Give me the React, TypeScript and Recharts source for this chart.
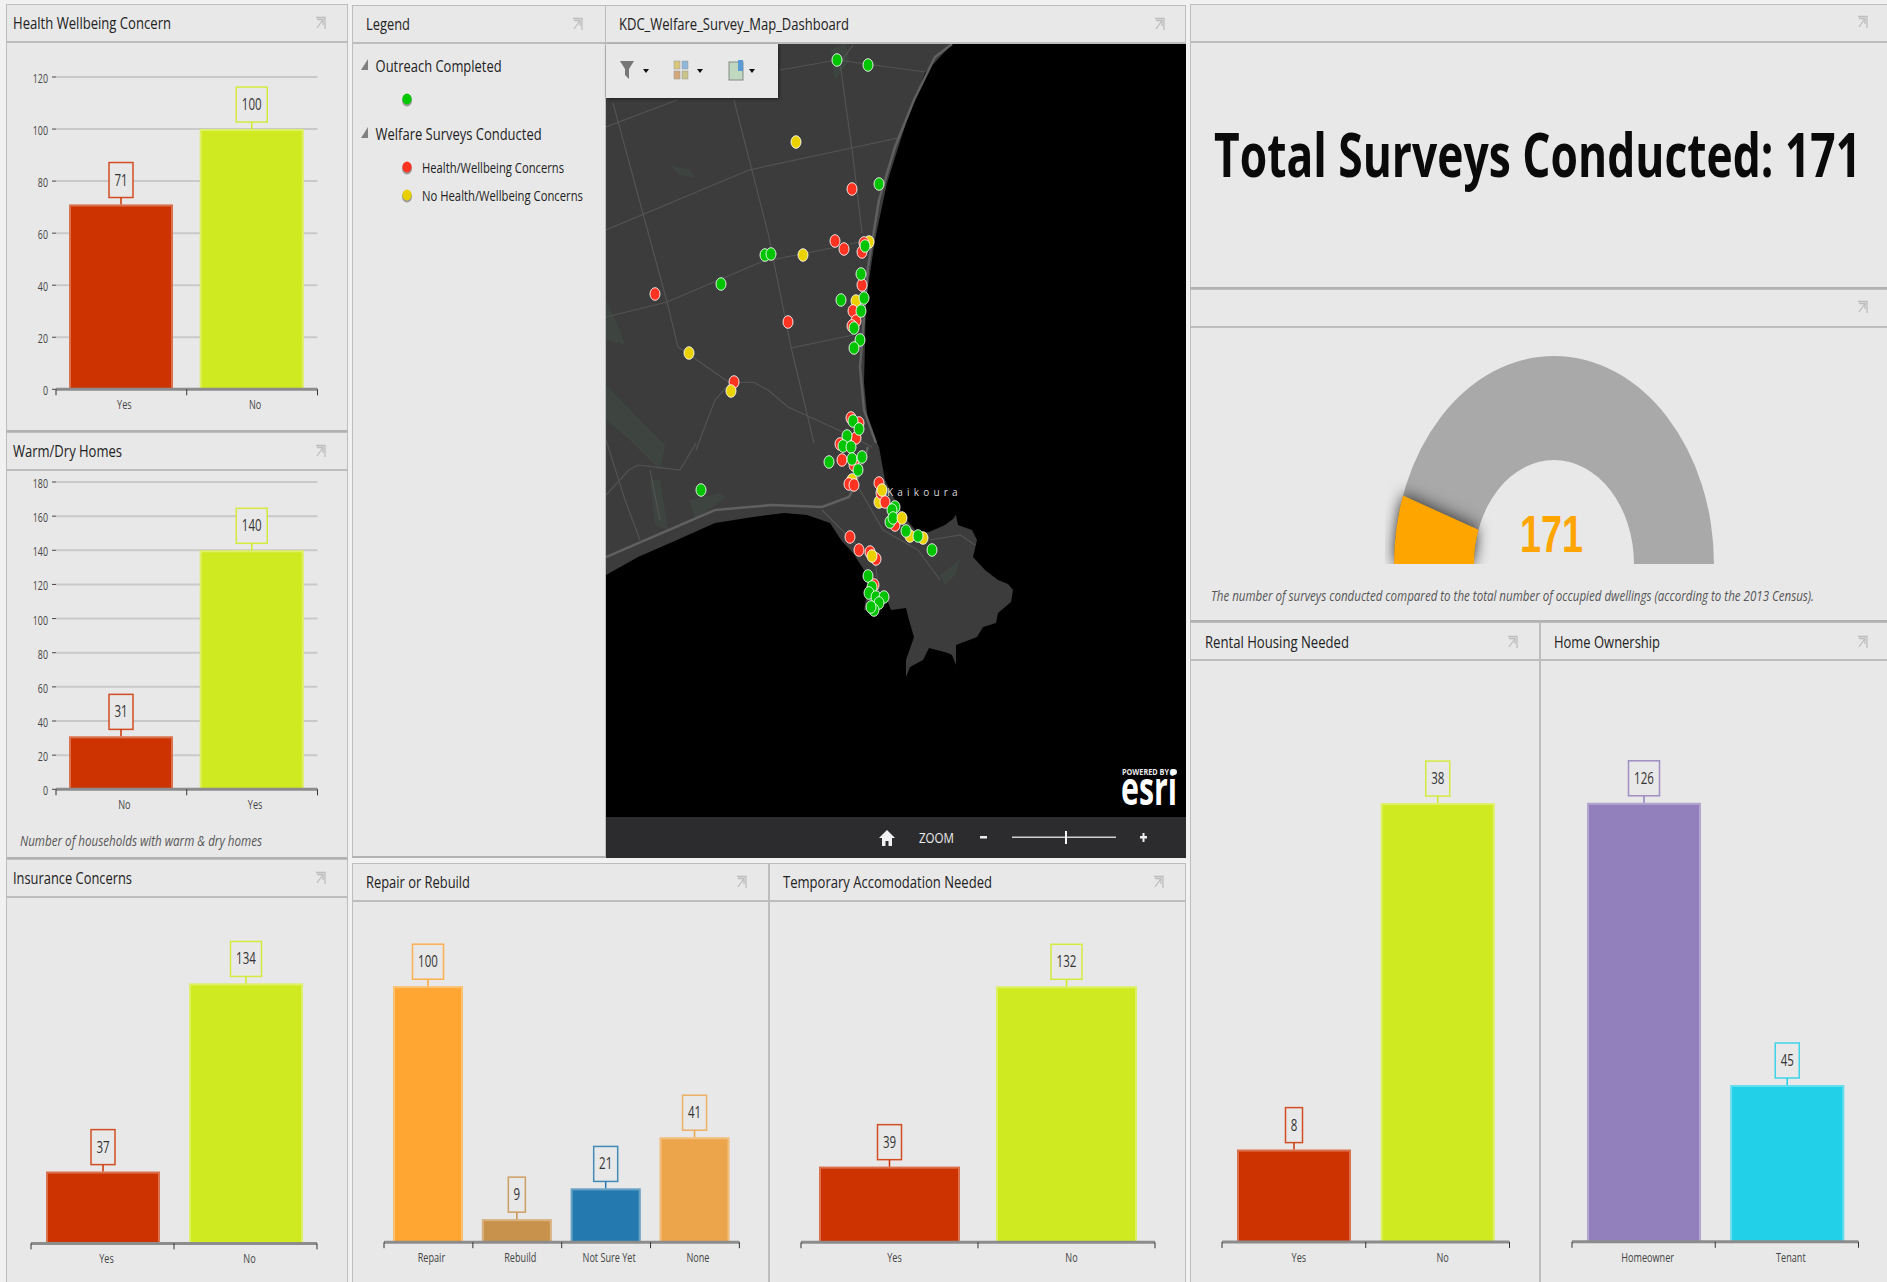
import React from "react";
import { BarChart, Bar, XAxis, YAxis, CartesianGrid, LabelList, PieChart, Pie, Cell, ScatterChart, Scatter } from "recharts";

const RED = "#CC3300", LIME = "#D0EA22";
const healthCats = ["Yes", "No"], healthVals = [71, 100], healthCols = [RED, LIME], healthTicks = [0, 20, 40, 60, 80, 100, 120];
const warmCats = ["No", "Yes"], warmVals = [31, 140], warmCols = [RED, LIME], warmTicks = [0, 20, 40, 60, 80, 100, 120, 140, 160, 180];
const insuranceCats = ["Yes", "No"], insuranceVals = [37, 134], insuranceCols = [RED, LIME];
const repairCats = ["Repair", "Rebuild", "Not Sure Yet", "None"], repairVals = [100, 9, 21, 41], repairCols = ["#FFA632", "#C9924C", "#2479AE", "#EDA54B"];
const tempCats = ["Yes", "No"], tempVals = [39, 132], tempCols = [RED, LIME];
const rentalCats = ["Yes", "No"], rentalVals = [8, 38], rentalCols = [RED, LIME];
const homeCats = ["Homeowner", "Tenant"], homeVals = [126, 45], homeCols = ["#9180BB", "#22D0E8"];
const gaugeValue = 171, gaugeMax = 1600;

const greenPts = [[837,60],[868,65],[879,184],[765,255],[771,254],[721,284],[861,274],[865,246],[841,300],[864,298],[861,311],[854,328],[860,340],[854,348],[853,421],[859,429],[847,436],[843,446],[851,447],[829,462],[852,459],[862,457],[858,470],[701,490],[895,507],[892,510],[890,522],[893,518],[906,531],[918,536],[932,550],[868,576],[872,587],[869,593],[876,597],[884,597],[879,603],[874,610],[871,607]];
const redPts = [[852,189],[835,241],[844,249],[864,243],[862,252],[655,294],[862,285],[853,311],[856,321],[852,326],[788,322],[734,382],[851,418],[859,423],[840,444],[856,438],[842,460],[854,465],[849,484],[854,485],[879,483],[881,493],[885,502],[895,525],[850,537],[859,550],[870,552],[876,559],[874,585]];
const yellowUnderPts = [[869,242],[856,301],[852,480],[879,502],[910,536],[923,538]];
const yellowOverPts = [[796,142],[803,255],[689,353],[731,391],[882,490],[902,518],[872,556]];

const landOutline = "606,44 952,44 925,73 906,123 887,183 875,240 866,300 864,383 868,423 879,447 885,480 895,500 905,518 918,533 929,532 945,525 953,519 956,515 958,525 972,530 977,540 973,557 985,570 998,580 1008,584 1013,590 1011,602 998,613 996,623 983,627 977,637 956,645 956,665 952,655 948,653 929,648 923,660 910,667 906,677 906,660 914,637 909,620 906,608 891,610 887,600 876,613 864,610 868,587 864,570 853,553 841,540 830,523 807,515 784,513 753,517 715,523 677,540 638,557 606,575";
const roads = [
  "853,45 840,63 853,157 862,233", "606,230 749,170 898,138", "606,127 677,100",
  "606,317 667,302 761,262 837,247 868,240", "613,103 667,302 678,347 730,383",
  "734,100 768,233 791,347 814,443", "791,348 853,335",
  "696,450 715,400 730,383 753,382 768,390 788,407 845,433 872,447", "780,70 837,60 925,72",
  "952,44 935,57 914,100 895,147 879,200 868,267 860,367 864,410 876,443",
  "606,495 629,470 638,465 680,470 696,443", "606,557 715,510 772,505 822,507 849,497 856,483 868,447",
  "856,483 883,530 918,550", "822,510 849,537 876,567 879,597",
  "606,440 625,500 640,540", "650,470 660,520", "930,540 960,535 975,545", "918,550 940,580",
];
const greenery = [
  "670,165 690,170 695,178 680,175", "606,300 620,330 625,345 606,340", "606,385 640,420 665,445 660,470 630,440 606,420",
  "650,480 660,480 668,530 655,525", "690,500 720,493 726,497 695,520", "940,575 960,560 955,575 945,585",
  "830,50 845,44 850,60 835,80",
];

const FONT = "'Open Sans', sans-serif";
const PANEL = "#E8E8E8", LINE = "#BDBDBD";

function barShape(p: any) {
  const color = p.payload?.color ?? p.color;
  return (
    <g>
      <rect x={p.x} y={p.y} width={p.width} height={p.height} fill={color} />
      <rect x={p.x + 1} y={p.y + 1} width={Math.max(p.width - 2, 0)} height={Math.max(p.height - 1, 0)} fill="none" stroke="#ffffff" strokeOpacity={0.3} strokeWidth={2} />
    </g>
  );
}

function makeValueLabel(cols: string[]) {
  return function ValueLabel(p: any) {
    const vb = p.viewBox ?? p;
    const cx = vb.x + vb.width / 2;
    const color = cols[p.index];
    const s = String(p.value);
    const w = s.length === 1 ? 17 : s.length === 2 ? 24 : 31;
    const yTop = vb.y - 42;
    return (
      <g>
        <line x1={cx} x2={cx} y1={vb.y} y2={vb.y - 7} stroke={color} strokeWidth={1.5} />
        <rect x={cx - w / 2} y={yTop} width={w} height={35} fill={PANEL} stroke={color} strokeWidth={1.5} strokeOpacity={0.85} />
        <text transform={`translate(${cx},${yTop + 23}) scale(0.72,1)`} textAnchor="middle" fontFamily={FONT} fontSize={16} fill="#333">{s}</text>
      </g>
    );
  };
}

type ChartCfg = { cats: string[]; vals: number[]; cols: string[]; left: number; right: number; top: number; bottom: number; max: number; barW: number; ticks?: number[]; labelShift?: number };

function PanelChart({ cats, vals, cols, left, right, top, bottom, max, barW, ticks, labelShift = 3 }: ChartCfg) {
  const mL = 50, mT = 60, mR = 6, xH = 40;
  const plotW = right - left, plotH = bottom - top;
  const data = cats.map((name, i) => ({ name, value: vals[i], color: cols[i] }));
  const band = plotW / cats.length;
  const axisY = mT + plotH;
  const xTick = (p: any) => {
    const l = p.x - band / 2;
    return (
      <g>
        <line x1={l} x2={l} y1={axisY} y2={axisY + 6} stroke="#333" strokeWidth={1} />
        {p.index === cats.length - 1 && <line x1={l + band} x2={l + band} y1={axisY} y2={axisY + 6} stroke="#333" strokeWidth={1} />}
        <text transform={`translate(${p.x + labelShift},${axisY + 20}) scale(0.76,1)`} textAnchor="middle" fontFamily={FONT} fontSize={12} fill="#444">{p.payload.value}</text>
      </g>
    );
  };
  const yTick = (p: any) => (
    <g>
      <line x1={mL - 4} x2={mL} y1={p.y} y2={p.y} stroke="#444" strokeWidth={1} />
      <text transform={`translate(${mL - 8},${p.y + 6}) scale(0.74,1)`} textAnchor="end" fontFamily={FONT} fontSize={12} fill="#444">{p.payload.value}</text>
    </g>
  );
  return (
    <div style={{ position: "absolute", left: left - mL, top: top - mT }}>
      <BarChart width={mL + plotW + mR} height={mT + plotH + xH} data={data} margin={{ top: mT, right: mR, bottom: 0, left: ticks ? 0 : mL }}>
        {ticks && <CartesianGrid vertical={false} stroke="#C9C9C9" strokeWidth={2} />}
        <XAxis dataKey="name" height={xH} interval={0} axisLine={{ stroke: "#8C8C8C", strokeWidth: 3 }} tickLine={false} tick={xTick} />
        {ticks
          ? <YAxis width={mL} domain={[0, max]} ticks={ticks} interval={0} axisLine={false} tickLine={false} tick={yTick} />
          : <YAxis hide domain={[0, max]} />}
        <Bar dataKey="value" barSize={barW} isAnimationActive={false} shape={barShape}>
          <LabelList dataKey="value" content={makeValueLabel(cols)} />
        </Bar>
      </BarChart>
    </div>
  );
}

function Panel({ x, y, w, h, hb }: { x: number; y: number; w: number; h: number; hb: number }) {
  return (
    <div style={{ position: "absolute", left: x, top: y, width: w, height: h, background: PANEL, boxSizing: "border-box", border: `1px solid ${LINE}`, borderBottom: "2px solid #B2B2B2" }}>
      <div style={{ position: "absolute", left: 0, right: 0, top: hb - y - 1, height: 2, background: LINE }} />
    </div>
  );
}

function Txt({ x, y, w, s, size = 17, color = "#222", italic, weight, sx = 1, family = FONT }: any) {
  return (
    <text transform={`translate(${x},${y}) scale(${sx},1)`} textLength={w / sx} lengthAdjust="spacingAndGlyphs" fontFamily={family} fontSize={size} fill={color} fontStyle={italic ? "italic" : undefined} fontWeight={weight}>{s}</text>
  );
}

function Pin({ x, y }: { x: number; y: number }) {
  return (
    <g transform={`translate(${x - 5},${y - 6})`} stroke="#BDBDBD" strokeWidth={1.3} fill="none">
      <path d="M1,0.5 H10 V12" />
      <path d="M2,2.5 H8 V8 M8,2.5 L2,11" />
    </g>
  );
}

function LegendDot({ x, y, c }: { x: number; y: number; c: string }) {
  return (
    <g>
      <ellipse cx={x} cy={y + 1.5} rx={5} ry={6} fill="#999" />
      <ellipse cx={x} cy={y} rx={4.6} ry={5.4} fill={c} />
    </g>
  );
}

const dot = (color: string) => (p: any) => (
  <ellipse cx={p.cx} cy={p.cy} rx={5} ry={6.3} fill={color} stroke="#fff" strokeOpacity={0.85} strokeWidth={1} />
);
const toPts = (a: number[][]) => a.map(([x, y]) => ({ x, y }));

function MapArea() {
  return (
    <div style={{ position: "absolute", left: 606, top: 44, width: 580, height: 814, background: "#000" }}>
      <svg width={580} height={773} viewBox="606 44 580 773" style={{ position: "absolute", left: 0, top: 0 }}>
        <polygon points={landOutline} fill="#3C3C3C" />
        {greenery.map((g, i) => <polygon key={i} points={g} fill="#3E4540" />)}
        {roads.map((r, i) => <polyline key={i} points={r} fill="none" stroke={i === 9 || i === 11 ? "#606060" : "#535353"} strokeWidth={i === 9 || i === 11 ? 2.5 : 1.2} />)}
        <text x={887} y={496} fontFamily={FONT} fontSize={10} letterSpacing={4.2} fill="#D8D8D8">Kaikoura</text>
      </svg>
      <div style={{ position: "absolute", left: 0, top: 0 }}>
        <ScatterChart width={580} height={773} margin={{ top: 0, right: 0, bottom: 0, left: 0 }}>
          <XAxis type="number" dataKey="x" domain={[606, 1186]} hide />
          <YAxis type="number" dataKey="y" domain={[44, 817]} reversed hide />
          <Scatter data={toPts(yellowUnderPts)} shape={dot("#EBD100")} isAnimationActive={false} />
          <Scatter data={toPts(redPts)} shape={dot("#FF3322")} isAnimationActive={false} />
          <Scatter data={toPts(greenPts)} shape={dot("#00C400")} isAnimationActive={false} />
          <Scatter data={toPts(yellowOverPts)} shape={dot("#EBD100")} isAnimationActive={false} />
        </ScatterChart>
      </div>
      <div style={{ position: "absolute", left: 0, top: 773, width: 580, height: 41, background: "#2C2C2F" }} />
      <div style={{ position: "absolute", left: 0, top: 0, width: 172, height: 54, background: PANEL, boxShadow: "1px 1px 3px rgba(0,0,0,.5)" }} />
    </div>
  );
}

function Gauge() {
  const rest = gaugeMax - gaugeValue;
  return (
    <div style={{ position: "absolute", left: 1333.5, top: 352, width: 440, height: 212, overflow: "hidden" }}>
      <div style={{ width: 440, height: 220, transform: "scaleX(0.769)", transformOrigin: "220px 0" }}>
        <PieChart width={440} height={220} margin={{ top: 0, right: 0, bottom: 0, left: 0 }}>
          <Pie data={[{ value: gaugeMax }]} dataKey="value" cx={220} cy={212} startAngle={180} endAngle={0} innerRadius={104} outerRadius={208} stroke="none" fill="#A9A9A9" isAnimationActive={false} />
          <Pie data={[{ value: gaugeValue }, { value: rest }]} dataKey="value" cx={220} cy={212} startAngle={180} endAngle={0} innerRadius={104} outerRadius={208} stroke="none" isAnimationActive={false}>
            <Cell fill="#FFA500" style={{ filter: "drop-shadow(0 0 9px rgba(0,0,0,.8))" }} />
            <Cell fill="none" />
          </Pie>
        </PieChart>
      </div>
    </div>
  );
}

export default function App() {
  return (
    <div style={{ position: "absolute", left: 0, top: 0, width: 1887, height: 1282, overflow: "hidden", background: "#F1F1F1" }}>
      <Panel x={6} y={4} w={342} h={428} hb={41} />
      <Panel x={6} y={432} w={342} h={427} hb={469} />
      <Panel x={6} y={859} w={342} h={430} hb={896} />
      <Panel x={352} y={5} w={254} h={853} hb={42} />
      <Panel x={605} y={5} w={581} h={853} hb={42} />
      <Panel x={352} y={863} w={417} h={430} hb={900} />
      <Panel x={769} y={863} w={417} h={430} hb={900} />
      <Panel x={1190} y={4} w={700} h={285} hb={41} />
      <Panel x={1190} y={289} w={700} h={333} hb={326} />
      <Panel x={1190} y={622} w={350} h={670} hb={659} />
      <Panel x={1540} y={622} w={350} h={670} hb={659} />

      <MapArea />
      <PanelChart cats={healthCats} vals={healthVals} cols={healthCols} left={56} right={317.5} top={76.7} bottom={389} max={120} barW={104} ticks={healthTicks} />
      <PanelChart cats={warmCats} vals={warmVals} cols={warmCols} left={56} right={317.5} top={481.7} bottom={789} max={180} barW={104} ticks={warmTicks} />
      <PanelChart cats={insuranceCats} vals={insuranceVals} cols={insuranceCols} left={31} right={317} top={932.6} bottom={1243} max={160} barW={114} labelShift={4} />
      <PanelChart cats={repairCats} vals={repairVals} cols={repairCols} left={383.6} right={739} top={934.8} bottom={1242} max={120} barW={70} />
      <PanelChart cats={tempCats} vals={tempVals} cols={tempCols} left={801} right={1155} top={931.7} bottom={1242} max={160} barW={141} labelShift={5} />
      <PanelChart cats={rentalCats} vals={rentalVals} cols={rentalCols} left={1222} right={1509.5} top={780} bottom={1242} max={40} barW={114} labelShift={5} />
      <PanelChart cats={homeCats} vals={homeVals} cols={homeCols} left={1572} right={1858.5} top={754.2} bottom={1242} max={140} barW={114} labelShift={4} />
      <Gauge />

      <svg width={1887} height={1282} style={{ position: "absolute", left: 0, top: 0, pointerEvents: "none" }}>
        <Txt x={13} y={29} w={158} s="Health Wellbeing Concern" />
        <Txt x={366} y={30} w={44} s="Legend" />
        <Txt x={619} y={30} w={230} s="KDC_Welfare_Survey_Map_Dashboard" />
        <Txt x={13} y={457} w={109} s="Warm/Dry Homes" />
        <Txt x={13} y={884} w={119} s="Insurance Concerns" />
        <Txt x={366} y={888} w={104} s="Repair or Rebuild" />
        <Txt x={783} y={888} w={209} s="Temporary Accomodation Needed" />
        <Txt x={1205} y={648} w={144} s="Rental Housing Needed" />
        <Txt x={1554} y={648} w={106} s="Home Ownership" />
        <Txt x={20} y={846} w={242} size={14} color="#555" italic sx={0.85} s="Number of households with warm & dry homes" />
        <Txt x={1211} y={601} w={603} size={14} color="#555" italic sx={0.8} s="The number of surveys conducted compared to the total number of occupied dwellings (according to the 2013 Census)." />
        <Txt x={1214} y={177} w={647} size={61} weight={700} color="#0A0A0A" sx={0.66} s="Total Surveys Conducted: 171" />
        <Txt x={1520} y={552} w={63} size={52} weight={700} color="#FFA500" sx={0.72} family="'Liberation Sans', sans-serif" s={String(gaugeValue)} />

        <polygon points="368,59 368,70 361,70" fill="#808080" />
        <polygon points="368,127 368,138 361,138" fill="#808080" />
        <Txt x={375.6} y={72} w={126} s="Outreach Completed" />
        <Txt x={375.6} y={140} w={166} s="Welfare Surveys Conducted" />
        <LegendDot x={407} y={99} c="#00C800" />
        <LegendDot x={407} y={167} c="#FF3322" />
        <LegendDot x={407} y={195} c="#E8CF00" />
        <Txt x={422} y={173} w={142} size={15} s="Health/Wellbeing Concerns" />
        <Txt x={422} y={201} w={161} size={15} s="No Health/Wellbeing Concerns" />

        {[[320,23],[577,24],[1159,24],[320,451],[320,878],[741,882],[1158,882],[1862,22],[1862,307],[1512,642],[1862,642]].map(([x,y],i) => <Pin key={i} x={x} y={y} />)}

        {/* map toolbar */}
        <polygon points="620,61 634,61 629,69 629,79 625,75 625,69" fill="#777" />
        <polygon points="643,69 649,69 646,73" fill="#111" />
        <g stroke="#999" strokeWidth={0.5}>
          <rect x={674} y={61} width={6} height={8} fill="#D9C67A" /><rect x={682} y={61} width={6} height={8} fill="#8FB7D8" />
          <rect x={674} y={71} width={6} height={8} fill="#D4A77B" /><rect x={682} y={71} width={6} height={8} fill="#C9C48A" />
        </g>
        <polygon points="697,69 703,69 700,73" fill="#111" />
        <rect x={729} y={62} width={14} height={18} fill="#BFD8BF" stroke="#888" />
        <rect x={738} y={60} width={5} height={11} fill="#5B9BD5" />
        <polygon points="749,69 755,69 752,73" fill="#111" />

        {/* esri + zoom bar */}
        <Txt x={1122} y={775} w={47} size={9} weight={700} color="#E8E8E8" s="POWERED BY" />
        <circle cx={1174} cy={772} r={3} fill="#F2F2F2" />
        <Txt x={1121} y={805} w={56} size={46} weight={700} color="#FFFFFF" s="esri" />
        <path d="M887,830 L879,838 L882,838 L882,846 L885.5,846 L885.5,841 L888.5,841 L888.5,846 L892,846 L892,838 L895,838 Z" fill="#F2F2F2" />
        <Txt x={919} y={843} w={35} size={15} color="#EDEDED" s="ZOOM" />
        <rect x={980} y={836} width={7} height={2.5} fill="#EDEDED" />
        <rect x={1012} y={836.5} width={104} height={1.5} fill="#D0D0D0" />
        <rect x={1065} y={831} width={2} height={13} fill="#F5F5F5" />
        <rect x={1140} y={836} width={7} height={2.5} fill="#EDEDED" />
        <rect x={1142.5} y={833} width={2} height={9} fill="#EDEDED" />
      </svg>
    </div>
  );
}
